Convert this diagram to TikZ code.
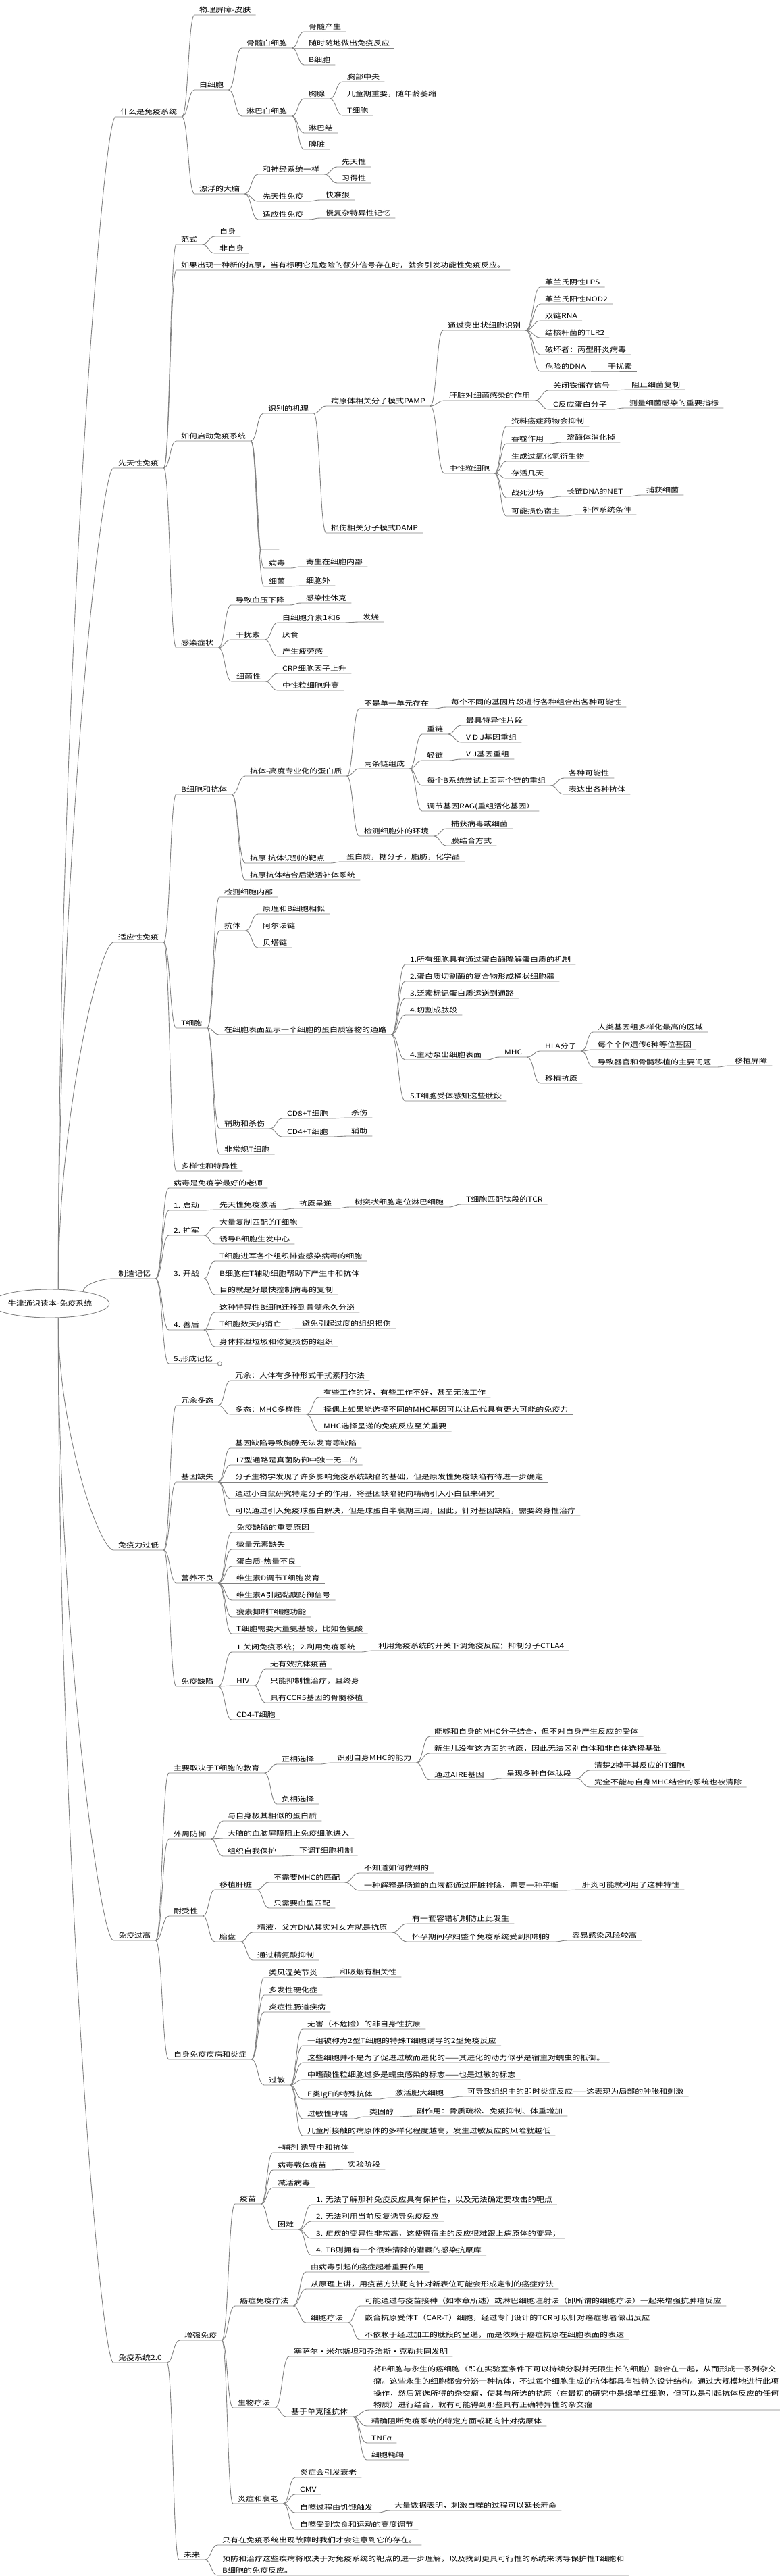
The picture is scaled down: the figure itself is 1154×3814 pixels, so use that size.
\documentclass[tikz,border=0pt]{standalone}
\usepackage{fontspec}
\setmainfont{Noto Sans CJK SC}[FakeStretch=1.2]
\usetikzlibrary{calc,shapes.geometric}
\definecolor{linegray}{RGB}{128,128,128}
\tikzset{
  branch/.style={draw=linegray, line width=0.9pt},
  topic/.style={anchor=south west, inner xsep=7pt, inner ysep=2pt, text height=8pt, text depth=1pt},
  longtopic/.style={anchor=south west, inner xsep=7pt, inner ysep=2pt, align=left},
  rootnode/.style={ellipse, draw=linegray, line width=0.9pt, minimum width=148pt, minimum height=42pt, inner sep=0pt}
}
\newcommand{\linkto}[2]{\draw[branch] let \p1=(#1.south east), \p2=(#2.south west) in (\p1) .. controls ({(\x1+\x2)/2},\y1) and ({(\x1+\x2)/2},\y2) .. (\p2) -- (#2.south east);}
\newcommand{\rootto}[2]{\draw[branch] let \p1=(root.#1), \p2=(#2.south west) in (\p1) .. controls (\x1,{(\y1+\y2)/2}) and ({\x2-20pt},\y2) .. (\p2) -- (#2.south east);}

\begin{document}
\begin{tikzpicture}[x=1pt, y=-1pt, font=\fontsize{10pt}{17.7pt}\selectfont]
	\useasboundingbox (0,0) rectangle (1154,3814);

	\node[rootnode] (root) at (74,1930) {牛津通识读本-免疫系统};

	\node[topic] (W) at (171,173) {什么是免疫系统};
	\node[topic] (X) at (168,693) {先天性免疫};
	\node[topic] (S) at (168,1395) {适应性免疫};
	\node[topic] (J) at (168,1893) {制造记忆};
	\node[topic] (D) at (168,2295) {免疫力过低};
	\node[topic] (G) at (168,2873) {免疫过高};
	\node[topic] (V) at (168,3498) {免疫系统2.0};
	\rootto{60}{W} \rootto{60}{X} \rootto{60}{S} \rootto{20}{J}
	\rootto{-60}{D} \rootto{-60}{G} \rootto{-60}{V}

	% 什么是免疫系统
	\node[topic] (w1) at (288,22) {物理屏障-皮肤};
	\node[topic] (w2) at (288,133) {白细胞};
	\node[topic] (w21) at (358,71) {骨髓白细胞};
	\node[topic] (w211) at (450,47) {骨髓产生};
	\node[topic] (w212) at (450,71) {随时随地做出免疫反应};
	\node[topic] (w213) at (450,96) {B细胞};
	\node[topic] (w22) at (358,172) {淋巴白细胞};
	\node[topic] (w221) at (450,146) {胸腺};
	\node[topic] (w2211) at (507,121) {胸部中央};
	\node[topic] (w2212) at (507,146) {儿童期重要，随年龄萎缩};
	\node[topic] (w2213) at (507,171) {T细胞};
	\node[topic] (w222) at (450,197) {淋巴结};
	\node[topic] (w223) at (450,221) {脾脏};
	\node[topic] (w3) at (288,287) {漂浮的大脑};
	\node[topic] (w31) at (382,258) {和神经系统一样};
	\node[topic] (w311) at (499,247) {先天性};
	\node[topic] (w312) at (499,271) {习得性};
	\node[topic] (w32) at (382,298) {先天性免疫};
	\node[topic] (w321) at (475,296) {快准狠};
	\node[topic] (w33) at (382,325) {适应性免疫};
	\node[topic] (w331) at (475,323) {慢复杂特异性记忆};
	\linkto{W}{w1} \linkto{W}{w2} \linkto{W}{w3}
	\linkto{w2}{w21} \linkto{w2}{w22}
	\linkto{w21}{w211} \linkto{w21}{w212} \linkto{w21}{w213}
	\linkto{w22}{w221} \linkto{w22}{w222} \linkto{w22}{w223}
	\linkto{w221}{w2211} \linkto{w221}{w2212} \linkto{w221}{w2213}
	\linkto{w3}{w31} \linkto{w3}{w32} \linkto{w3}{w33}
	\linkto{w31}{w311} \linkto{w31}{w312} \linkto{w32}{w321} \linkto{w33}{w331}

	% 先天性免疫
	\node[topic] (x1) at (261,362) {范式};
	\node[topic] (x11) at (318,350) {自身};
	\node[topic] (x12) at (318,375) {非自身};
	\node[topic] (x2) at (261,400) {如果出现一种新的抗原，当有标明它是危险的额外信号存在时，就会引发功能性免疫反应。};
	\node[topic] (x3) at (261,653) {如何启动免疫系统};
	\node[topic] (x31) at (390,612) {识别的机理};
	\node[topic] (x311) at (483,601) {病原体相关分子模式PAMP};
	\node[topic] (x3111) at (656,489) {通过突出状细胞识别};
	\node[topic] (x31111) at (800,425) {革兰氏阴性LPS};
	\node[topic] (x31112) at (800,450) {革兰氏阳性NOD2};
	\node[topic] (x31113) at (800,475) {双链RNA};
	\node[topic] (x31114) at (800,500) {结核杆菌的TLR2};
	\node[topic] (x31115) at (800,525) {破坏者：丙型肝炎病毒};
	\node[topic] (x31116) at (800,550) {危险的DNA};
	\node[topic] (x311161) at (893,550) {干扰素};
	\node[topic] (x3112) at (658,593) {肝脏对细菌感染的作用};
	\node[topic] (x31121) at (812,578) {关闭铁储存信号};
	\node[topic] (x311211) at (928,577) {阻止细菌复制};
	\node[topic] (x31122) at (812,606) {C反应蛋白分子};
	\node[topic] (x311221) at (925,604) {测量细菌感染的重要指标};
	\node[topic] (x3113) at (658,701) {中性粒细胞};
	\node[topic] (x31131) at (750,631) {资料癌症药物会抑制};
	\node[topic] (x31132) at (750,657) {吞噬作用};
	\node[topic] (x311321) at (832,655) {溶酶体消化掉};
	\node[topic] (x31133) at (750,683) {生成过氧化氢衍生物};
	\node[topic] (x31134) at (750,708) {存活几天};
	\node[topic] (x31135) at (750,737) {战死沙场};
	\node[topic] (x311351) at (832,735) {长链DNA的NET};
	\node[topic] (x3113511) at (950,733) {捕获细菌};
	\node[topic] (x31136) at (750,764) {可能损伤宿主};
	\node[topic] (x311361) at (856,762) {补体系统条件};
	\node[topic] (x312) at (483,789) {损伤相关分子模式DAMP};
	\node[topic, minimum width=26pt] (x32) at (387,814) {};
	\node[topic] (x33) at (391,841) {病毒};
	\node[topic] (x331) at (446,839) {寄生在细胞内部};
	\node[topic] (x34) at (391,868) {细菌};
	\node[topic] (x341) at (446,867) {细胞外};
	\node[topic] (x4) at (261,959) {感染症状};
	\node[topic] (x41) at (342,896) {导致血压下降};
	\node[topic] (x411) at (446,893) {感染性休克};
	\node[topic] (x42) at (342,947) {干扰素};
	\node[topic] (x421) at (411,922) {白细胞介素1和6};
	\node[topic] (x4211) at (530,921) {发烧};
	\node[topic] (x422) at (411,947) {厌食};
	\node[topic] (x423) at (411,972) {产生疲劳感};
	\node[topic] (x43) at (343,1009) {细菌性};
	\node[topic] (x431) at (411,997) {CRP细胞因子上升};
	\node[topic] (x432) at (411,1022) {中性粒细胞升高};
	\linkto{X}{x1} \linkto{X}{x2} \linkto{X}{x3} \linkto{X}{x4}
	\linkto{x1}{x11} \linkto{x1}{x12}
	\linkto{x3}{x31} \linkto{x3}{x32} \linkto{x3}{x33} \linkto{x3}{x34}
	\linkto{x31}{x311} \linkto{x31}{x312}
	\linkto{x311}{x3111} \linkto{x311}{x3112} \linkto{x311}{x3113}
	\linkto{x3111}{x31111} \linkto{x3111}{x31112} \linkto{x3111}{x31113}
	\linkto{x3111}{x31114} \linkto{x3111}{x31115} \linkto{x3111}{x31116}
	\linkto{x31116}{x311161}
	\linkto{x3112}{x31121} \linkto{x3112}{x31122}
	\linkto{x31121}{x311211} \linkto{x31122}{x311221}
	\linkto{x3113}{x31131} \linkto{x3113}{x31132} \linkto{x3113}{x31133}
	\linkto{x3113}{x31134} \linkto{x3113}{x31135} \linkto{x3113}{x31136}
	\linkto{x31132}{x311321} \linkto{x31135}{x311351} \linkto{x311351}{x3113511}
	\linkto{x31136}{x311361}
	\linkto{x33}{x331} \linkto{x34}{x341}
	\linkto{x4}{x41} \linkto{x4}{x42} \linkto{x4}{x43}
	\linkto{x41}{x411}
	\linkto{x42}{x421} \linkto{x42}{x422} \linkto{x42}{x423} \linkto{x421}{x4211}
	\linkto{x43}{x431} \linkto{x43}{x432}

	% 适应性免疫
	\node[topic] (s1) at (261,1176) {B细胞和抗体};
	\node[topic] (s11) at (363,1149) {抗体-高度专业化的蛋白质};
	\node[topic] (s111) at (532,1049) {不是单一单元存在};
	\node[topic] (s1111) at (661,1047) {每个不同的基因片段进行各种组合出各种可能性};
	\node[topic] (s112) at (532,1138) {两条链组成};
	\node[topic] (s1121) at (625,1087) {重链};
	\node[topic] (s11211) at (683,1074) {最具特异性片段};
	\node[topic] (s11212) at (683,1099) {V D J基因重组};
	\node[topic] (s1122) at (625,1126) {轻链};
	\node[topic] (s11221) at (683,1124) {V J基因重组};
	\node[topic] (s1123) at (625,1163) {每个B系统尝试上面两个链的重组};
	\node[topic] (s11231) at (835,1152) {各种可能性};
	\node[topic] (s11232) at (835,1176) {表达出各种抗体};
	\node[topic] (s1124) at (625,1201) {调节基因RAG(重组活化基因）};
	\node[topic] (s113) at (532,1238) {检测细胞外的环境};
	\node[topic] (s1131) at (661,1227) {捕获病毒或细菌};
	\node[topic] (s1132) at (661,1252) {膜结合方式};
	\node[topic] (s12) at (363,1278) {抗原 抗体识别的靶点};
	\node[topic] (s121) at (506,1276) {蛋白质，糖分子，脂肪，化学品};
	\node[topic] (s13) at (363,1303) {抗原抗体结合后激活补体系统};
	\node[topic] (s2) at (261,1522) {T细胞};
	\node[topic] (s21) at (325,1328) {检测细胞内部};
	\node[topic] (s22) at (325,1378) {抗体};
	\node[topic] (s221) at (382,1353) {原理和B细胞相似};
	\node[topic] (s222) at (382,1378) {阿尔法链};
	\node[topic] (s223) at (382,1403) {贝塔链};
	\node[topic] (s23) at (325,1532) {在细胞表面显示一个细胞的蛋白质容物的通路};
	\node[topic] (s231) at (600,1428) {1.所有细胞具有通过蛋白酶降解蛋白质的机制};
	\node[topic] (s232) at (600,1453) {2.蛋白质切割酶的复合物形成桶状细胞器};
	\node[topic] (s233) at (600,1478) {3.泛素标记蛋白质运送到通路};
	\node[topic] (s234) at (600,1503) {4.切割成肽段};
	\node[topic] (s235) at (600,1569) {4.主动泵出细胞表面};
	\node[topic] (s2351) at (740,1565) {MHC};
	\node[topic] (s23511) at (800,1556) {HLA分子};
	\node[topic] (s235111) at (878,1528) {人类基因组多样化最高的区域};
	\node[topic] (s235112) at (878,1554) {每个个体遗传6种等位基因};
	\node[topic] (s235113) at (878,1580) {导致器官和骨髓移植的主要问题};
	\node[topic] (s2351131) at (1081,1578) {移植屏障};
	\node[topic] (s23512) at (800,1604) {移植抗原};
	\node[topic] (s236) at (600,1630) {5.T细胞受体感知这些肽段};
	\node[topic] (s24) at (325,1671) {辅助和杀伤};
	\node[topic] (s241) at (418,1656) {CD8+T细胞};
	\node[topic] (s2411) at (513,1655) {杀伤};
	\node[topic] (s242) at (418,1683) {CD4+T细胞};
	\node[topic] (s2421) at (513,1682) {辅助};
	\node[topic] (s25) at (325,1709) {非常规T细胞};
	\node[topic] (s3) at (261,1734) {多样性和特异性};
	\linkto{S}{s1} \linkto{S}{s2} \linkto{S}{s3}
	\linkto{s1}{s11} \linkto{s1}{s12} \linkto{s1}{s13}
	\linkto{s11}{s111} \linkto{s11}{s112} \linkto{s11}{s113}
	\linkto{s111}{s1111}
	\linkto{s112}{s1121} \linkto{s112}{s1122} \linkto{s112}{s1123} \linkto{s112}{s1124}
	\linkto{s1121}{s11211} \linkto{s1121}{s11212} \linkto{s1122}{s11221}
	\linkto{s1123}{s11231} \linkto{s1123}{s11232}
	\linkto{s113}{s1131} \linkto{s113}{s1132}
	\linkto{s12}{s121}
	\linkto{s2}{s21} \linkto{s2}{s22} \linkto{s2}{s23} \linkto{s2}{s24} \linkto{s2}{s25}
	\linkto{s22}{s221} \linkto{s22}{s222} \linkto{s22}{s223}
	\linkto{s23}{s231} \linkto{s23}{s232} \linkto{s23}{s233}
	\linkto{s23}{s234} \linkto{s23}{s235} \linkto{s23}{s236}
	\linkto{s235}{s2351} \linkto{s2351}{s23511} \linkto{s2351}{s23512}
	\linkto{s23511}{s235111} \linkto{s23511}{s235112} \linkto{s23511}{s235113}
	\linkto{s235113}{s2351131}
	\linkto{s24}{s241} \linkto{s24}{s242} \linkto{s241}{s2411} \linkto{s242}{s2421}

	% 制造记忆
	\node[topic] (j1) at (250,1759) {病毒是免疫学最好的老师};
	\node[topic] (j2) at (250,1792) {1. 启动};
	\node[topic] (j21) at (318,1791) {先天性免疫激活};
	\node[topic] (j211) at (436,1789) {抗原呈递};
	\node[topic] (j2111) at (518,1787) {树突状细胞定位淋巴细胞};
	\node[topic] (j21111) at (683,1783) {T细胞匹配肽段的TCR};
	\node[topic] (j3) at (250,1829) {2. 扩军};
	\node[topic] (j31) at (318,1817) {大量复制匹配的T细胞};
	\node[topic] (j32) at (318,1842) {诱导B细胞生发中心};
	\node[topic] (j4) at (250,1893) {3. 开战};
	\node[topic] (j41) at (318,1867) {T细胞进军各个组织排查感染病毒的细胞};
	\node[topic] (j42) at (318,1893) {B细胞在T辅助细胞帮助下产生中和抗体};
	\node[topic] (j43) at (318,1917) {目的就是好最快控制病毒的复制};
	\node[topic] (j5) at (250,1969) {4. 善后};
	\node[topic] (j51) at (318,1943) {这种特异性B细胞迁移到骨髓永久分泌};
	\node[topic] (j52) at (318,1968) {T细胞数天内消亡};
	\node[topic] (j521) at (440,1967) {避免引起过度的组织损伤};
	\node[topic] (j53) at (318,1994) {身体排泄垃圾和修复损伤的组织};
	\node[topic] (j6) at (250,2019) {5.形成记忆};
	\linkto{J}{j1} \linkto{J}{j2} \linkto{J}{j3} \linkto{J}{j4} \linkto{J}{j5} \linkto{J}{j6}
	\linkto{j2}{j21} \linkto{j21}{j211} \linkto{j211}{j2111} \linkto{j2111}{j21111}
	\linkto{j3}{j31} \linkto{j3}{j32}
	\linkto{j4}{j41} \linkto{j4}{j42} \linkto{j4}{j43}
	\linkto{j5}{j51} \linkto{j5}{j52} \linkto{j5}{j53} \linkto{j52}{j521}
	\draw[branch, fill=white] ([xshift=3pt]j6.south east) circle (3pt);

	% 免疫力过低
	\node[topic] (d1) at (261,2081) {冗余多态};
	\node[topic] (d11) at (341,2044) {冗余：人体有多种形式干扰素阿尔法};
	\node[topic] (d12) at (341,2094) {多态：MHC多样性};
	\node[topic] (d121) at (472,2069) {有些工作的好，有些工作不好，甚至无法工作};
	\node[topic] (d122) at (472,2094) {择偶上如果能选择不同的MHC基因可以让后代具有更大可能的免疫力};
	\node[topic] (d123) at (472,2119) {MHC选择呈递的免疫反应至关重要};
	\node[topic] (d2) at (261,2194) {基因缺失};
	\node[topic] (d21) at (341,2144) {基因缺陷导致胸腺无法发育等缺陷};
	\node[topic] (d22) at (341,2169) {17型通路是真菌防御中独一无二的};
	\node[topic] (d23) at (341,2194) {分子生物学发现了许多影响免疫系统缺陷的基础，但是原发性免疫缺陷有待进一步确定};
	\node[topic] (d24) at (341,2219) {通过小白鼠研究特定分子的作用，将基因缺陷靶向精确引入小白鼠来研究};
	\node[topic] (d25) at (341,2244) {可以通过引入免疫球蛋白解决，但是球蛋白半衰期三周，因此，针对基因缺陷，需要终身性治疗};
	\node[topic] (d3) at (261,2344) {营养不良};
	\node[topic] (d31) at (343,2269) {免疫缺陷的重要原因};
	\node[topic] (d32) at (343,2294) {微量元素缺失};
	\node[topic] (d33) at (343,2319) {蛋白质-热量不良};
	\node[topic] (d34) at (343,2344) {维生素D调节T细胞发育};
	\node[topic] (d35) at (343,2369) {维生素A引起黏膜防御信号};
	\node[topic] (d36) at (343,2394) {瘦素抑制T细胞功能};
	\node[topic] (d37) at (343,2419) {T细胞需要大量氨基酸，比如色氨酸};
	\node[topic] (d4) at (261,2497) {免疫缺陷};
	\node[topic] (d41) at (343,2446) {1.关闭免疫系统；2.利用免疫系统};
	\node[topic] (d411) at (553,2444) {利用免疫系统的开关下调免疫反应；抑制分子CTLA4};
	\node[topic] (d42) at (343,2496) {HIV};
	\node[topic] (d421) at (393,2471) {无有效抗体疫苗};
	\node[topic] (d422) at (393,2496) {只能抑制性治疗，且终身};
	\node[topic] (d423) at (393,2521) {具有CCR5基因的骨髓移植};
	\node[topic] (d43) at (343,2546) {CD4-T细胞};
	\linkto{D}{d1} \linkto{D}{d2} \linkto{D}{d3} \linkto{D}{d4}
	\linkto{d1}{d11} \linkto{d1}{d12}
	\linkto{d12}{d121} \linkto{d12}{d122} \linkto{d12}{d123}
	\linkto{d2}{d21} \linkto{d2}{d22} \linkto{d2}{d23} \linkto{d2}{d24} \linkto{d2}{d25}
	\linkto{d3}{d31} \linkto{d3}{d32} \linkto{d3}{d33} \linkto{d3}{d34}
	\linkto{d3}{d35} \linkto{d3}{d36} \linkto{d3}{d37}
	\linkto{d4}{d41} \linkto{d4}{d42} \linkto{d4}{d43} \linkto{d41}{d411}
	\linkto{d42}{d421} \linkto{d42}{d422} \linkto{d42}{d423}

	% 免疫过高
	\node[topic] (g1) at (250,2625) {主要取决于T细胞的教育};
	\node[topic] (g11) at (410,2612) {正相选择};
	\node[topic] (g111) at (492,2610) {识别自身MHC的能力};
	\node[topic] (g1111) at (636,2571) {能够和自身的MHC分子结合，但不对自身产生反应的受体};
	\node[topic] (g1112) at (636,2596) {新生儿没有这方面的抗原，因此无法区别自体和非自体选择基础};
	\node[topic] (g1113) at (636,2635) {通过AIRE基因};
	\node[topic] (g11131) at (743,2633) {呈现多种自体肽段};
	\node[topic] (g111311) at (873,2621) {清楚2掉于其反应的T细胞};
	\node[topic] (g111312) at (873,2646) {完全不能与自身MHC结合的系统也被清除};
	\node[topic] (g12) at (410,2671) {负相选择};
	\node[topic] (g2) at (250,2723) {外周防御};
	\node[topic] (g21) at (330,2696) {与自身极其相似的蛋白质};
	\node[topic] (g22) at (330,2722) {大脑的血脑屏障阻止免疫细胞进入};
	\node[topic] (g23) at (330,2748) {组织自我保护};
	\node[topic] (g231) at (436,2747) {下调T细胞机制};
	\node[topic] (g3) at (250,2837) {耐受性};
	\node[topic] (g31) at (318,2798) {移植肝脏};
	\node[topic] (g311) at (398,2787) {不需要MHC的匹配};
	\node[topic] (g3111) at (532,2773) {不知道如何做到的};
	\node[topic] (g3112) at (532,2799) {一种解释是肠道的血液都通过肝脏排除，需要一种平衡};
	\node[topic] (g31121) at (855,2798) {肝炎可能就利用了这种特性};
	\node[topic] (g312) at (398,2825) {只需要血型匹配};
	\node[topic] (g32) at (318,2875) {胎盘};
	\node[topic] (g321) at (374,2861) {精液，父方DNA其实对女方就是抗原};
	\node[topic] (g3211) at (603,2848) {有一套容错机制防止此发生};
	\node[topic] (g3212) at (603,2875) {怀孕期间孕妇整个免疫系统受到抑制的};
	\node[topic] (g32121) at (840,2873) {容易感染风险较高};
	\node[topic] (g322) at (374,2902) {通过精氨酸抑制};
	\node[topic] (g4) at (250,3049) {自身免疫疾病和炎症};
	\node[topic] (g41) at (391,2928) {类风湿关节炎};
	\node[topic] (g411) at (496,2927) {和吸烟有相关性};
	\node[topic] (g42) at (391,2954) {多发性硬化症};
	\node[topic] (g43) at (391,2979) {炎症性肠道疾病};
	\node[topic] (g44) at (391,3087) {过敏};
	\node[topic] (g441) at (448,3004) {无害（不危险）的非自身性抗原};
	\node[topic] (g442) at (448,3029) {一组被称为2型T细胞的特殊T细胞诱导的2型免疫反应};
	\node[topic] (g443) at (448,3054) {这些细胞并不是为了促进过敏而进化的——其进化的动力似乎是宿主对蠕虫的抵御。};
	\node[topic] (g444) at (448,3079) {中嗜酸性粒细胞过多是蠕虫感染的标志——也是过敏的标志};
	\node[topic] (g445) at (448,3108) {E类IgE的特殊抗体};
	\node[topic] (g4451) at (578,3106) {激活肥大细胞};
	\node[topic] (g44511) at (685,3104) {可导致组织中的即时炎症反应——这表现为局部的肿胀和刺激};
	\node[topic] (g446) at (448,3137) {过敏性哮喘};
	\node[topic] (g4461) at (540,3134) {类固醇};
	\node[topic] (g44611) at (610,3133) {副作用：骨质疏松、免疫抑制、体重增加};
	\node[topic] (g447) at (448,3162) {儿童所接触的病原体的多样化程度越高，发生过敏反应的风险就越低};
	\linkto{G}{g1} \linkto{G}{g2} \linkto{G}{g3} \linkto{G}{g4}
	\linkto{g1}{g11} \linkto{g1}{g12} \linkto{g11}{g111}
	\linkto{g111}{g1111} \linkto{g111}{g1112} \linkto{g111}{g1113}
	\linkto{g1113}{g11131} \linkto{g11131}{g111311} \linkto{g11131}{g111312}
	\linkto{g2}{g21} \linkto{g2}{g22} \linkto{g2}{g23} \linkto{g23}{g231}
	\linkto{g3}{g31} \linkto{g3}{g32}
	\linkto{g31}{g311} \linkto{g31}{g312}
	\linkto{g311}{g3111} \linkto{g311}{g3112} \linkto{g3112}{g31121}
	\linkto{g32}{g321} \linkto{g32}{g322}
	\linkto{g321}{g3211} \linkto{g321}{g3212} \linkto{g3212}{g32121}
	\linkto{g4}{g41} \linkto{g4}{g42} \linkto{g4}{g43} \linkto{g4}{g44}
	\linkto{g41}{g411}
	\linkto{g44}{g441} \linkto{g44}{g442} \linkto{g44}{g443} \linkto{g44}{g444}
	\linkto{g44}{g445} \linkto{g44}{g446} \linkto{g44}{g447}
	\linkto{g445}{g4451} \linkto{g4451}{g44511}
	\linkto{g446}{g4461} \linkto{g4461}{g44611}

	% 免疫系统2.0
	\node[topic] (v1) at (266,3465) {增强免疫};
	\node[topic] (v11) at (348,3263) {疫苗};
	\node[topic] (v111) at (404,3187) {+辅剂 诱导中和抗体};
	\node[topic] (v112) at (404,3213) {病毒载体疫苗};
	\node[topic] (v1121) at (508,3212) {实验阶段};
	\node[topic] (v113) at (404,3239) {减活病毒};
	\node[topic] (v114) at (404,3301) {困难};
	\node[topic] (v1141) at (461,3264) {1. 无法了解那种免疫反应具有保护性，以及无法确定要攻击的靶点};
	\node[topic] (v1142) at (461,3289) {2. 无法利用当前反复诱导免疫反应};
	\node[topic] (v1143) at (461,3314) {3. 疟疾的变异性非常高，这使得宿主的反应很难跟上病原体的变异；};
	\node[topic] (v1144) at (461,3339) {4. TB则拥有一个很难清除的潜藏的感染抗原库};
	\node[topic] (v12) at (348,3414) {癌症免疫疗法};
	\node[topic] (v121) at (453,3364) {由病毒引起的癌症起着重要作用};
	\node[topic] (v122) at (453,3389) {从原理上讲，用疫苗方法靶向针对新表位可能会形成定制的癌症疗法};
	\node[topic] (v123) at (453,3439) {细胞疗法};
	\node[topic] (v1231) at (533,3414) {可能通过与疫苗接种（如本章所述）或淋巴细胞注射法（即所谓的细胞疗法）一起来增强抗肿瘤反应};
	\node[topic] (v1232) at (533,3439) {嵌合抗原受体T（CAR-T）细胞，经过专门设计的TCR可以针对癌症患者做出反应};
	\node[topic] (v1233) at (533,3464) {不依赖于经过加工的肽段的呈递，而是依赖于癌症抗原在细胞表面的表达};
	\node[topic] (v13) at (345,3565) {生物疗法};
	\node[topic] (v131) at (428,3489) {塞萨尔·米尔斯坦和乔治斯·克勒共同发明};
	\node[topic] (v132) at (424,3578) {基于单克隆抗体};
	\node[longtopic] (v1321) at (546,3568) {将B细胞与永生的癌细胞（即在实验室条件下可以持续分裂并无限生长的细胞）融合在一起，从而形成一系列杂交\\瘤。这些永生的细胞都会分泌一种抗体，不过每个细胞生成的抗体都具有独特的设计结构。通过大规模地进行此项\\操作，然后筛选所得的杂交瘤，使其与所选的抗原（在最初的研究中是绵羊红细胞，但可以是引起抗体反应的任何\\物质）进行结合，就有可能得到那些具有正确特异性的杂交瘤};
	\node[topic] (v1322) at (543,3592) {精确阻断免疫系统的特定方面或靶向针对病原体};
	\node[topic] (v1323) at (543,3617) {TNFα};
	\node[topic] (v1324) at (543,3642) {细胞耗竭};
	\node[topic] (v14) at (345,3707) {炎症和衰老};
	\node[topic] (v141) at (437,3668) {炎症会引发衰老};
	\node[topic] (v142) at (437,3693) {CMV};
	\node[topic] (v143) at (437,3720) {自噬过程由饥饿触发};
	\node[topic] (v1431) at (577,3717) {大量数据表明，刺激自噬的过程可以延长寿命};
	\node[topic] (v144) at (437,3745) {自噬受到饮食和运动的高度调节};
	\node[topic] (v2) at (265,3790) {未来};
	\node[topic] (v21) at (322,3768) {只有在免疫系统出现故障时我们才会注意到它的存在。};
	\node[longtopic] (v22) at (322,3813) {预防和治疗这些疾病将取决于对免疫系统的靶点的进一步理解，以及找到更具可行性的系统来诱导保护性T细胞和\\B细胞的免疫反应。};
	\linkto{V}{v1} \linkto{V}{v2}
	\linkto{v1}{v11} \linkto{v1}{v12} \linkto{v1}{v13} \linkto{v1}{v14}
	\linkto{v11}{v111} \linkto{v11}{v112} \linkto{v11}{v113} \linkto{v11}{v114}
	\linkto{v112}{v1121}
	\linkto{v114}{v1141} \linkto{v114}{v1142} \linkto{v114}{v1143} \linkto{v114}{v1144}
	\linkto{v12}{v121} \linkto{v12}{v122} \linkto{v12}{v123}
	\linkto{v123}{v1231} \linkto{v123}{v1232} \linkto{v123}{v1233}
	\linkto{v13}{v131} \linkto{v13}{v132}
	\linkto{v132}{v1321} \linkto{v132}{v1322} \linkto{v132}{v1323} \linkto{v132}{v1324}
	\linkto{v14}{v141} \linkto{v14}{v142} \linkto{v14}{v143} \linkto{v14}{v144}
	\linkto{v143}{v1431}
	\linkto{v2}{v21} \linkto{v2}{v22}
\end{tikzpicture}
\end{document}
